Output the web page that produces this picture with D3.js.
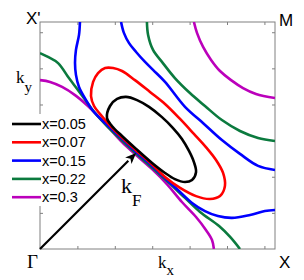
<!DOCTYPE html>
<html><head><meta charset="utf-8">
<script src="https://cdn.jsdelivr.net/npm/d3@7"></script>
<style>body{margin:0;background:#fff}svg{display:block}</style>
</head><body>
<svg id="c" width="304" height="280"></svg>
<script>
// data in units of pi (kx/pi, ky/pi)
const tickValues = [0.5, 1, 1.5, 2, 2.5, 3];
const dopings = ["x=0.05", "x=0.07", "x=0.15", "x=0.22", "x=0.3"];
const colors = ["#000000", "#ff0000", "#0000ff", "#0b7a3e", "#bb00bb"];

const black05 = [[0.285,0.577],[0.298,0.630],[0.328,0.661],[0.366,0.670],[0.413,0.656],[0.464,0.626],[0.519,0.581],[0.566,0.533],[0.604,0.485],[0.634,0.432],[0.655,0.383],[0.664,0.339],[0.647,0.304],[0.617,0.295],[0.574,0.308],[0.532,0.335],[0.477,0.379],[0.409,0.441],[0.349,0.498],[0.306,0.542]];
const red07 = [[0.217,0.674],[0.226,0.736],[0.247,0.775],[0.277,0.797],[0.311,0.797],[0.349,0.784],[0.404,0.744],[0.468,0.692],[0.532,0.639],[0.596,0.573],[0.655,0.507],[0.706,0.449],[0.749,0.392],[0.779,0.335],[0.787,0.278],[0.766,0.233],[0.723,0.220],[0.664,0.233],[0.596,0.269],[0.532,0.317],[0.477,0.372],[0.409,0.434],[0.349,0.491],[0.298,0.544],[0.255,0.595],[0.230,0.630]];
const blue15a = [[0.170,1.0],[0.166,0.943],[0.153,0.877],[0.149,0.819],[0.153,0.767],[0.166,0.714],[0.196,0.656],[0.226,0.608],[0.281,0.551],[0.349,0.485],[0.409,0.427],[0.477,0.366],[0.532,0.313],[0.587,0.260],[0.647,0.203],[0.702,0.167],[0.757,0.145],[0.817,0.137],[0.894,0.150],[0.957,0.167],[1.0,0.172]];
const blue15b = [[0.345,1.0],[0.357,0.952],[0.379,0.907],[0.409,0.868],[0.447,0.824],[0.481,0.789],[0.532,0.736],[0.617,0.626],[0.698,0.551],[0.774,0.480],[0.851,0.419],[0.928,0.366],[1.0,0.348]];
const green22a = [[0.0,0.863],[0.034,0.846],[0.077,0.819],[0.123,0.753],[0.162,0.700],[0.196,0.652],[0.234,0.599],[0.289,0.537],[0.349,0.478],[0.409,0.421],[0.477,0.359],[0.545,0.295],[0.617,0.225],[0.681,0.163],[0.762,0.101],[0.809,0.053],[0.851,0.0]];
const green22b = [[0.455,1.0],[0.460,0.943],[0.481,0.877],[0.523,0.819],[0.574,0.753],[0.638,0.687],[0.702,0.630],[0.774,0.568],[0.851,0.520],[0.928,0.489],[1.0,0.476]];
const magenta30a = [[0.0,0.744],[0.043,0.736],[0.094,0.714],[0.149,0.678],[0.204,0.630],[0.255,0.577],[0.298,0.529],[0.349,0.471],[0.409,0.414],[0.477,0.352],[0.540,0.286],[0.604,0.207],[0.664,0.141],[0.706,0.084],[0.732,0.040],[0.740,0.0]];
const magenta30b = [[0.655,1.0],[0.668,0.952],[0.694,0.890],[0.728,0.833],[0.766,0.784],[0.813,0.744],[0.864,0.709],[0.919,0.683],[1.0,0.665]];
const arrowTip = [0.409, 0.423];

const svg = d3.select("#c");
const L = 40, R = 275, T = 22, B = 249;
const x = d3.scaleLinear().domain([0, Math.PI]).range([L, R]);
const y = d3.scaleLinear().domain([0, Math.PI]).range([B, T]);
const px = d => x(d[0] * Math.PI), py = d => y(d[1] * Math.PI);

svg.append("defs").append("clipPath").attr("id", "clip")
  .append("rect").attr("x", L).attr("y", T).attr("width", R - L).attr("height", B - T);

// axes (ticks inward, no labels)
const axCol = "#808080";
const mk = (ax, tr) => {
  const g = svg.append("g").attr("transform", tr)
    .call(ax.tickValues(tickValues).tickSize(-3).tickSizeOuter(0).tickFormat(""));
  g.select(".domain").remove();
  g.selectAll("line").attr("stroke", axCol);
};
mk(d3.axisBottom(x), `translate(0,${B})`);
mk(d3.axisTop(x), `translate(0,${T})`);
mk(d3.axisLeft(y), `translate(${L},0)`);
mk(d3.axisRight(y), `translate(${R},0)`);
svg.append("rect").attr("x", L).attr("y", T).attr("width", R - L).attr("height", B - T)
  .attr("fill", "none").attr("stroke", axCol).attr("stroke-width", 1);

const open = d3.line().x(px).y(py).curve(d3.curveCatmullRom.alpha(0.5));
const closed = d3.line().x(px).y(py).curve(d3.curveCatmullRomClosed.alpha(0.5));
const cg = svg.append("g").attr("clip-path", "url(#clip)");
const curves = [
  [magenta30a, 4, open], [magenta30b, 4, open],
  [green22a, 3, open], [green22b, 3, open],
  [blue15a, 2, open], [blue15b, 2, open],
  [red07, 1, closed], [black05, 0, closed]
];
curves.forEach(([d, ci, gen]) => {
  cg.append("path").attr("d", gen(d)).attr("fill", "none")
    .attr("stroke", colors[ci]).attr("stroke-width", 2.6).attr("stroke-linejoin", "round");
});

// legend
const lg = svg.append("g");
lg.append("rect").attr("x", 6).attr("y", 114).attr("width", 82).attr("height", 92).attr("fill", "#fff");
dopings.forEach((t, i) => {
  const yy = 124 + i * 18.3;
  lg.append("line").attr("x1", 12).attr("x2", 41).attr("y1", yy).attr("y2", yy)
    .attr("stroke", colors[i]).attr("stroke-width", 2.6);
  lg.append("text").attr("x", 42).attr("y", yy + 5).text(t)
    .attr("font-family", "Liberation Sans, Arial, sans-serif").attr("font-size", 14.5);
});

// arrow Gamma -> kF
const x0 = x(0), y0 = y(0), x1 = px(arrowTip), y1 = py(arrowTip);
const ang = Math.atan2(y1 - y0, x1 - x0), hl = 11, hw = 4.5;
const bx = x1 - hl * Math.cos(ang), by = y1 - hl * Math.sin(ang);
svg.append("line").attr("x1", x0).attr("y1", y0).attr("x2", bx).attr("y2", by)
  .attr("stroke", "#000").attr("stroke-width", 2.2);
svg.append("path").attr("d", `M${x1},${y1}L${bx - hw * Math.sin(ang)},${by + hw * Math.cos(ang)}L${bx + 3*Math.cos(ang)},${by + 3*Math.sin(ang)}L${bx + hw * Math.sin(ang)},${by - hw * Math.cos(ang)}Z`)
  .attr("fill", "#000");

// labels
const sans = "Liberation Sans, Arial, sans-serif", serif = "Liberation Serif, Times New Roman, serif";
const txt = (s, xx, yy, f, fs) => svg.append("text").attr("x", xx).attr("y", yy).text(s)
  .attr("font-family", f).attr("font-size", fs);
txt("X'", 26, 24, sans, 17);
txt("M", 279, 26, sans, 17);
txt("X", 279, 268, sans, 17);
txt("Γ", 27, 268, serif, 19);
const sub = (main, s, xx, yy, fs, sfs, dy) => {
  const t = svg.append("text").attr("x", xx).attr("y", yy).attr("font-family", serif).attr("font-size", fs);
  t.append("tspan").text(main);
  t.append("tspan").text(s).attr("font-size", sfs).attr("dy", dy);
};
sub("k", "y", 16, 83, 17, 15, 9);
sub("k", "x", 158, 268, 17, 15, 7);
sub("k", "F", 121, 193, 22, 17, 13);
</script>
</body></html>
